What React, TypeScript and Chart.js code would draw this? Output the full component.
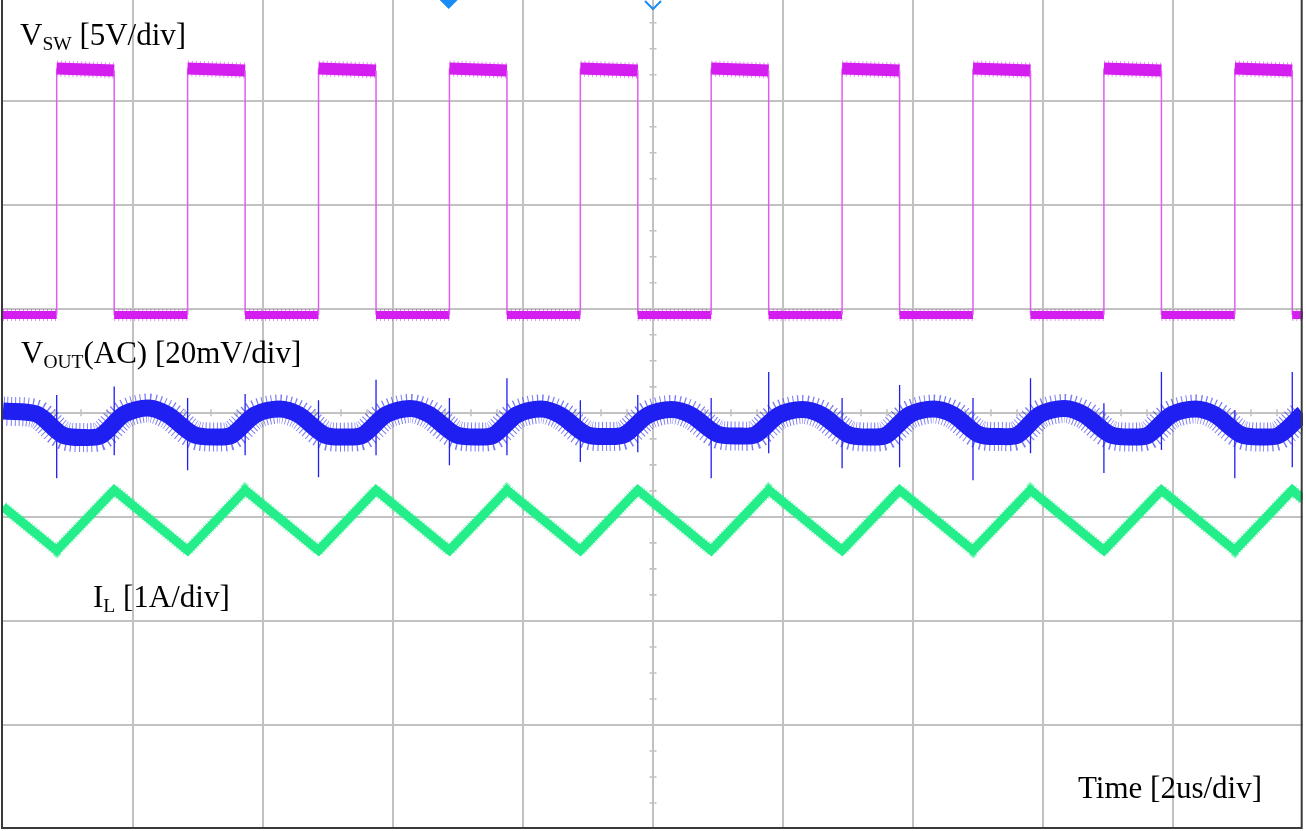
import React, { useEffect, useRef } from 'react';
import { Chart, registerables } from 'chart.js';

Chart.register(...registerables);

// ---- Screen grid: 10 horizontal divisions of 2 us, 8 vertical divisions ----
const TIME_GRID_US = [0, 2, 4, 6, 8, 10, 12, 14, 16, 18, 20];
const DIV_GRID = [-4, -3, -2, -1, 0, 1, 2, 3];
const TIME_MAX_US = 20;
const DIV_MIN = -4;
const DIV_MAX = 3.968;
const TRIGGER_US = 6.857;
const CENTER_US = 10;

// ---- Channel scales and positions (in divisions) ----
const VSW_V_PER_DIV = 5;
const VSW_POS_DIV = 0.94;
const VOUT_MV_PER_DIV = 20;
const VOUT_POS_DIV = -0.113;
const IL_A_PER_DIV = 1;
const IL_POS_DIV = -1.032;

// ---- V_SW : switching edges (us) and levels (V) ----
const RISE_US = [0.826, 2.84, 4.854, 6.868, 8.882, 10.895, 12.909, 14.923, 16.937, 18.951];
const FALL_US = [1.711, 3.725, 5.739, 7.753, 9.766, 11.78, 13.794, 15.808, 17.822, 19.835];
const VSW_HIGH_START_V = [11.85, 11.85, 11.85, 11.85, 11.85, 11.85, 11.85, 11.85, 11.85, 11.85];
const VSW_HIGH_END_V = [11.75, 11.75, 11.75, 11.75, 11.75, 11.75, 11.75, 11.75, 11.75, 11.75];
const VSW_LOW_V = 0;

// ---- V_OUT (AC) ripple ----
const VOUT_TIME_US = [
  0, 0.52, 0.918, 1.257, 1.511, 1.865, 2.234,
  2.534, 2.932, 3.271, 3.525, 3.879, 4.248,
  4.548, 4.946, 5.285, 5.539, 5.893, 6.262,
  6.562, 6.96, 7.298, 7.553, 7.906, 8.276,
  8.575, 8.974, 9.312, 9.567, 9.92, 10.289,
  10.589, 10.988, 11.326, 11.581, 11.934, 12.303,
  12.603, 13.002, 13.34, 13.594, 13.948, 14.317,
  14.617, 15.016, 15.354, 15.608, 15.962, 16.331,
  16.631, 17.029, 17.368, 17.622, 17.976, 18.345,
  18.645, 19.043, 19.382, 19.636, 19.99, 20,
];
const VOUT_MV = [
  2.6, 2.0, -2.0, -2.5, -2.1, 2.0, 3.2,
  1.9, -1.9, -2.4, -2.0, 1.9, 3.0,
  1.9, -2.0, -2.4, -2.0, 1.9, 3.1,
  1.9, -1.9, -2.4, -2.0, 1.9, 3.0,
  1.8, -1.9, -2.3, -1.9, 1.8, 2.9,
  1.8, -1.8, -2.2, -1.9, 1.8, 2.9,
  1.8, -1.9, -2.4, -2.0, 1.9, 3.0,
  1.9, -1.9, -2.3, -2.0, 2.0, 3.1,
  1.9, -1.9, -2.4, -2.0, 1.9, 3.0,
  1.9, -1.9, -2.4, -2.0, 2.0, 2.1,
];
// switching spikes on V_OUT (mV)
const SPIKE_RISE_UP_MV = [5.7, 5.1, 4.7, 5.1, 4.7, 5.1, 5.1, 5.1, 4.1, 2.8];
const SPIKE_RISE_DOWN_MV = [-10.3, -8.8, -10.1, -7.8, -7.2, -10.3, -8.4, -10.7, -9.3, -10.3];
const SPIKE_FALL_UP_MV = [7.3, 5.9, 8.6, 8.9, 5.7, 10.1, 7.6, 8.9, 10.1, 10.1];
const SPIKE_FALL_DOWN_MV = [-5.9, -5.9, -5.9, -5.9, -5.3, -5.5, -8.2, -5.5, -4.9, -8.2];

// ---- I_L triangle (A, ripple around channel position) ----
const IL_TIME_US = [
  0, 0.826, 1.711, 2.84, 3.725, 4.854, 5.739, 6.868, 7.753, 8.882, 9.766,
  10.895, 11.78, 12.909, 13.794, 14.923, 15.808, 16.937, 17.822, 18.951, 19.835, 20,
];
const IL_A = [
  0.13, -0.29, 0.29, -0.29, 0.29, -0.29, 0.29, -0.29, 0.29, -0.29, 0.29,
  -0.29, 0.29, -0.29, 0.29, -0.29, 0.29, -0.29, 0.29, -0.29, 0.29, 0.2,
];

// ---- styles ----
const GRID_COLOR = '#c2c2c2';
const FRAME_COLOR = '#3a3a3a';
const VSW_COLOR = '#d41ef0';
const VSW_FRINGE = 'rgba(212,30,240,0.5)';
const VSW_EDGE_COLOR = '#e05cf3';
const VOUT_COLOR = '#1f1ff2';
const VOUT_FRINGE = 'rgba(31,31,242,0.6)';
const IL_COLOR = '#24ee8a';
const IL_FRINGE = 'rgba(36,238,138,0.55)';
const MARKER_COLOR = '#1b8cf5';
const FONT = '"Liberation Serif", "Times New Roman", serif';
const TRANSPARENT = 'rgba(0,0,0,0)';

const vswDiv = (v: number) => VSW_POS_DIV + v / VSW_V_PER_DIV;
const voutDiv = (mv: number) => VOUT_POS_DIV + mv / VOUT_MV_PER_DIV;
const ilDiv = (a: number) => IL_POS_DIV + a / IL_A_PER_DIV;

function buildVsw() {
  const low = vswDiv(VSW_LOW_V);
  const pts: { x: number; y: number }[] = [{ x: 0, y: low }];
  RISE_US.forEach((r, i) => {
    pts.push(
      { x: r, y: low },
      { x: r, y: vswDiv(VSW_HIGH_START_V[i]) },
      { x: FALL_US[i], y: vswDiv(VSW_HIGH_END_V[i]) },
      { x: FALL_US[i], y: low },
    );
  });
  pts.push({ x: TIME_MAX_US, y: low });
  return pts;
}

function buildSpikes() {
  const pts: { x: number; y: number | null }[] = [];
  RISE_US.forEach((t, i) => {
    pts.push({ x: t, y: voutDiv(SPIKE_RISE_DOWN_MV[i]) }, { x: t, y: voutDiv(SPIKE_RISE_UP_MV[i]) }, { x: t, y: null });
    const f = FALL_US[i];
    pts.push({ x: f, y: voutDiv(SPIKE_FALL_DOWN_MV[i]) }, { x: f, y: voutDiv(SPIKE_FALL_UP_MV[i]) }, { x: f, y: null });
  });
  return pts;
}

const isVertical = (c: any) => c.p0.parsed.x === c.p1.parsed.x;

const scopePlugin = {
  id: 'scopeDecor',
  beforeDatasetsDraw(chart: any) {
    const { ctx, scales } = chart;
    const xs = scales.x;
    const ys = scales.y;
    const cx = xs.getPixelForValue(CENTER_US);
    const cy = ys.getPixelForValue(0);
    ctx.save();
    ctx.strokeStyle = GRID_COLOR;
    ctx.lineWidth = 1.6;
    ctx.beginPath();
    for (let i = 1; i < 50; i++) {
      if (i % 5 === 0) continue;
      const px = xs.getPixelForValue(i * 0.4);
      ctx.moveTo(px, cy - 3.5);
      ctx.lineTo(px, cy + 3.5);
    }
    for (let j = -16; j < 16; j++) {
      if (j % 4 === 0) continue;
      const py = ys.getPixelForValue(j * 0.25);
      ctx.moveTo(cx - 3.5, py);
      ctx.lineTo(cx + 3.5, py);
    }
    ctx.stroke();
    ctx.restore();
  },
  afterDraw(chart: any) {
    const { ctx, chartArea, scales } = chart;
    const xs = scales.x;
    ctx.save();
    ctx.setLineDash([]);
    ctx.strokeStyle = FRAME_COLOR;
    ctx.lineWidth = 2;
    ctx.beginPath();
    ctx.moveTo(chartArea.left - 1, 0);
    ctx.lineTo(chartArea.left - 1, chartArea.bottom - 1);
    ctx.lineTo(chartArea.right - 1.3, chartArea.bottom - 1);
    ctx.lineTo(chartArea.right - 1.3, 0);
    ctx.stroke();
    const tx = xs.getPixelForValue(TRIGGER_US);
    ctx.fillStyle = MARKER_COLOR;
    ctx.beginPath();
    ctx.moveTo(tx - 9, 0);
    ctx.lineTo(tx + 9, 0);
    ctx.lineTo(tx, 9);
    ctx.closePath();
    ctx.fill();
    const mx = xs.getPixelForValue(CENTER_US);
    ctx.strokeStyle = MARKER_COLOR;
    ctx.lineWidth = 2;
    ctx.beginPath();
    ctx.moveTo(mx - 8, 1);
    ctx.lineTo(mx, 9);
    ctx.lineTo(mx + 8, 1);
    ctx.stroke();
    ctx.restore();
  },
};

export default function App() {
  const canvasRef = useRef<HTMLCanvasElement | null>(null);

  useEffect(() => {
    const canvas = canvasRef.current;
    if (!canvas) return;
    const vswData = buildVsw();
    const spikeData = buildSpikes();
    const voutData = VOUT_TIME_US.map((t, i) => ({ x: t, y: voutDiv(VOUT_MV[i]) }));
    const ilData = IL_TIME_US.map((t, i) => ({ x: t, y: ilDiv(IL_A[i]) }));

    const chart = new Chart(canvas, {
      type: 'line',
      data: {
        datasets: [
          {
            label: 'VOUT spikes',
            data: spikeData,
            borderColor: VOUT_COLOR,
            borderWidth: 1.3,
            pointRadius: 0,
            spanGaps: false,
          },
          {
            label: 'VOUT',
            data: voutData,
            borderColor: VOUT_COLOR,
            borderWidth: 17,
            pointRadius: 0,
            tension: 0.3,
            borderJoinStyle: 'round',
          },
          {
            label: 'VOUT noise',
            data: voutData,
            borderColor: VOUT_FRINGE,
            borderWidth: 29,
            borderDash: [1, 3],
            pointRadius: 0,
            tension: 0.3,
            borderJoinStyle: 'round',
          },
          {
            label: 'VSW',
            data: vswData,
            borderColor: VSW_COLOR,
            pointRadius: 0,
            borderWidth: 8,
            segment: {
              borderWidth: (c: any) => (isVertical(c) ? 1.5 : c.p0.parsed.y > 2 ? 12 : 8),
              borderColor: (c: any) => (isVertical(c) ? VSW_EDGE_COLOR : VSW_COLOR),
            },
          },
          {
            label: 'VSW noise',
            data: vswData,
            borderColor: VSW_FRINGE,
            pointRadius: 0,
            borderWidth: 14,
            borderDash: [1, 3],
            segment: {
              borderWidth: (c: any) => (isVertical(c) ? 1 : c.p0.parsed.y > 2 ? 16 : 12),
              borderColor: (c: any) => (isVertical(c) ? TRANSPARENT : VSW_FRINGE),
            },
          },
          {
            label: 'IL',
            data: ilData,
            borderColor: IL_COLOR,
            borderWidth: 9,
            pointRadius: 0,
            borderJoinStyle: 'miter',
          },
          {
            label: 'IL noise',
            data: ilData,
            borderColor: IL_FRINGE,
            borderWidth: 12,
            borderDash: [1, 2],
            pointRadius: 0,
            borderJoinStyle: 'miter',
          },
        ],
      },
      options: {
        responsive: false,
        animation: false,
        events: [],
        layout: { padding: { left: 3, right: 3, top: 0, bottom: 2 } },
        plugins: { legend: { display: false }, tooltip: { enabled: false } },
        scales: {
          x: {
            type: 'linear',
            min: 0,
            max: TIME_MAX_US,
            afterBuildTicks: (s: any) => {
              s.ticks = TIME_GRID_US.map((v) => ({ value: v }));
            },
            ticks: { display: false },
            border: { display: false },
            grid: {
              drawTicks: false,
              lineWidth: 2,
              color: (c: any) =>
                c.tick && (c.tick.value === 0 || c.tick.value === TIME_MAX_US) ? TRANSPARENT : GRID_COLOR,
            },
          },
          y: {
            type: 'linear',
            min: DIV_MIN,
            max: DIV_MAX,
            afterBuildTicks: (s: any) => {
              s.ticks = DIV_GRID.map((v) => ({ value: v }));
            },
            ticks: { display: false },
            border: { display: false },
            grid: {
              drawTicks: false,
              lineWidth: 2,
              color: (c: any) => (c.tick && c.tick.value === DIV_MIN ? TRANSPARENT : GRID_COLOR),
            },
          },
        },
      },
      plugins: [scopePlugin],
    });
    return () => chart.destroy();
  }, []);

  const label: React.CSSProperties = {
    position: 'absolute',
    fontFamily: FONT,
    fontSize: '31px',
    lineHeight: '31px',
    color: '#000',
    whiteSpace: 'nowrap',
  };
  const sub: React.CSSProperties = { fontSize: '19.5px', lineHeight: '19px', verticalAlign: '-4.5px' };

  return (
    <div
      style={{
        position: 'absolute',
        left: 0,
        top: 0,
        width: 1306,
        height: 831,
        background: '#fff',
        overflow: 'hidden',
      }}
    >
      <canvas ref={canvasRef} width={1306} height={831} style={{ display: 'block' }} />
      <div style={{ ...label, left: 20, top: 19 }}>
        V<span style={sub}>SW</span> [5V/div]
      </div>
      <div style={{ ...label, left: 21, top: 337 }}>
        V<span style={sub}>OUT</span>(AC) [20mV/div]
      </div>
      <div style={{ ...label, left: 93, top: 581 }}>
        I<span style={sub}>L</span> [1A/div]
      </div>
      <div style={{ ...label, left: 1078, top: 772 }}>Time [2us/div]</div>
    </div>
  );
}
